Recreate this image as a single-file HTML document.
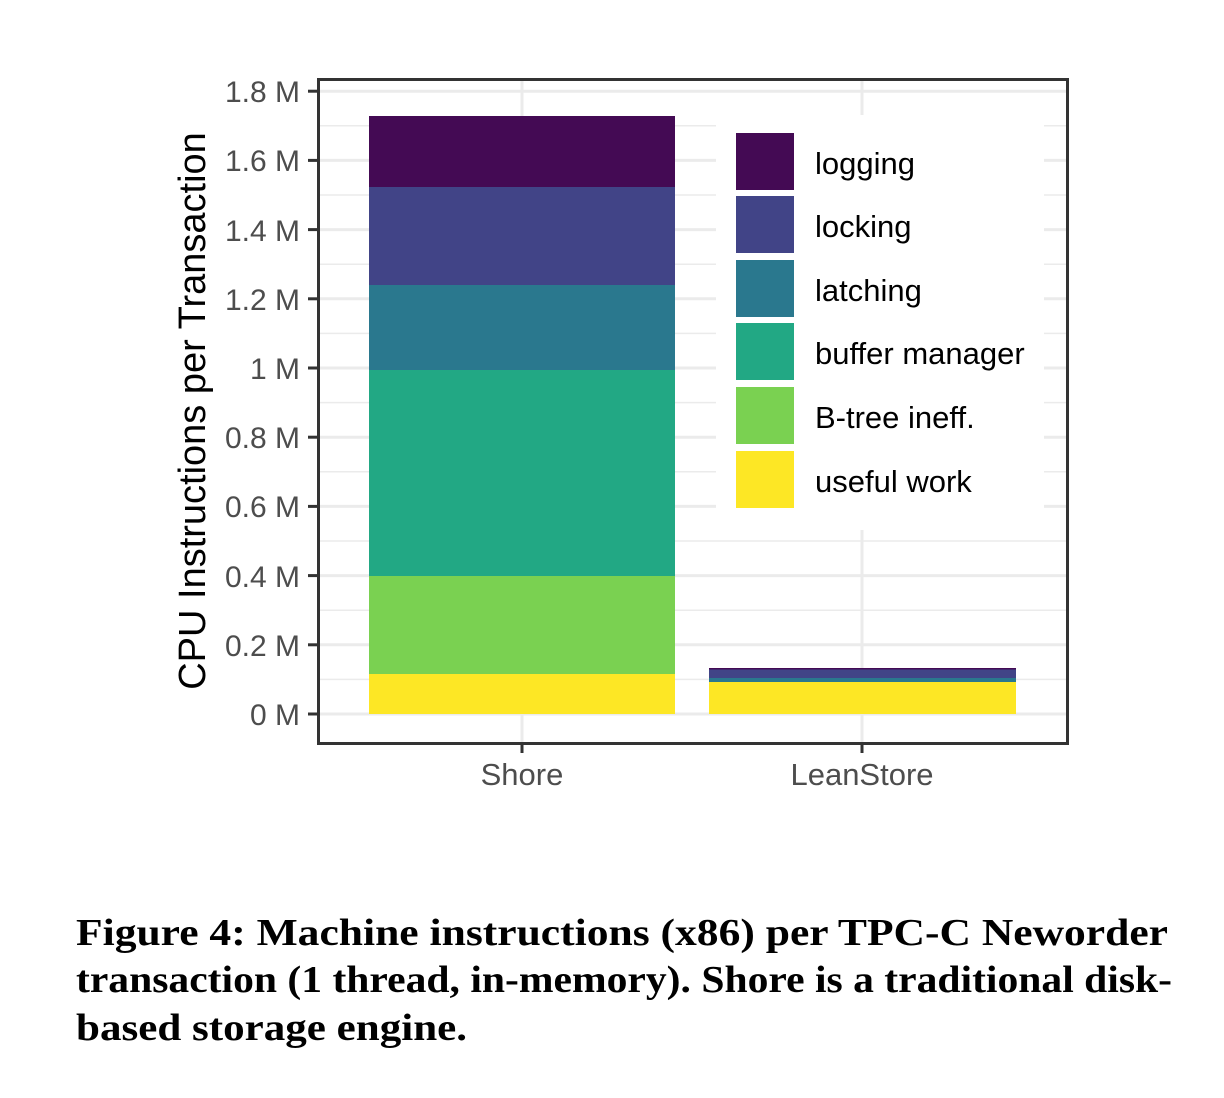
<!DOCTYPE html>
<html><head><meta charset="utf-8"><style>
html,body{margin:0;padding:0;background:#fff;}
svg{display:block;}
</style></head><body>
<svg width="1224" height="1098" viewBox="0 0 1224 1098" xmlns="http://www.w3.org/2000/svg">
<rect width="1224" height="1098" fill="#fff"/>
<g stroke="#ebebeb">
  <g stroke-width="1.5">
    <line x1="318" x2="1068" y1="679.4" y2="679.4"/>
    <line x1="318" x2="1068" y1="610.2" y2="610.2"/>
    <line x1="318" x2="1068" y1="541" y2="541"/>
    <line x1="318" x2="1068" y1="471.8" y2="471.8"/>
    <line x1="318" x2="1068" y1="402.6" y2="402.6"/>
    <line x1="318" x2="1068" y1="333.4" y2="333.4"/>
    <line x1="318" x2="1068" y1="264.2" y2="264.2"/>
    <line x1="318" x2="1068" y1="195" y2="195"/>
    <line x1="318" x2="1068" y1="125.8" y2="125.8"/>
  </g>
  <g stroke-width="3">
    <line x1="318" x2="1068" y1="714" y2="714"/>
    <line x1="318" x2="1068" y1="644.8" y2="644.8"/>
    <line x1="318" x2="1068" y1="575.6" y2="575.6"/>
    <line x1="318" x2="1068" y1="506.4" y2="506.4"/>
    <line x1="318" x2="1068" y1="437.2" y2="437.2"/>
    <line x1="318" x2="1068" y1="368" y2="368"/>
    <line x1="318" x2="1068" y1="298.8" y2="298.8"/>
    <line x1="318" x2="1068" y1="229.6" y2="229.6"/>
    <line x1="318" x2="1068" y1="160.4" y2="160.4"/>
    <line x1="318" x2="1068" y1="91.2" y2="91.2"/>
    <line x1="522" x2="522" y1="79" y2="744"/>
    <line x1="862" x2="862" y1="79" y2="744"/>
  </g>
</g>
<rect x="369" y="116" width="306" height="71" fill="#440a54"/>
<rect x="369" y="187" width="306" height="98" fill="#414487"/>
<rect x="369" y="285" width="306" height="85" fill="#2a788e"/>
<rect x="369" y="370" width="306" height="206" fill="#22a884"/>
<rect x="369" y="576" width="306" height="98" fill="#7ad151"/>
<rect x="369" y="674" width="306" height="40" fill="#fde725"/>
<rect x="709" y="668" width="307" height="1.5" fill="#440a54"/>
<rect x="709" y="669.5" width="307" height="8.5" fill="#414487"/>
<rect x="709" y="678" width="307" height="4" fill="#2a788e"/>
<rect x="709" y="682" width="307" height="32" fill="#fde725"/>
<rect x="716" y="115" width="328" height="415" fill="#fff"/>
<rect x="736" y="133" width="58" height="57" fill="#440a54"/>
<rect x="736" y="196" width="58" height="57" fill="#414487"/>
<rect x="736" y="260" width="58" height="57" fill="#2a788e"/>
<rect x="736" y="323" width="58" height="57" fill="#22a884"/>
<rect x="736" y="387" width="58" height="57" fill="#7ad151"/>
<rect x="736" y="451" width="58" height="57" fill="#fde725"/>
<g font-family="Liberation Sans, sans-serif" font-size="31" fill="#000">
  <text x="815" y="174">logging</text>
  <text x="815" y="237">locking</text>
  <text x="815" y="301">latching</text>
  <text x="815" y="364">buffer manager</text>
  <text x="815" y="428">B-tree ineff.</text>
  <text x="815" y="492">useful work</text>
</g>
<rect x="318.5" y="79.5" width="749" height="664" fill="none" stroke="#333" stroke-width="3"/>
<g stroke="#333" stroke-width="3">
  <line x1="308" x2="318" y1="714" y2="714"/>
  <line x1="308" x2="318" y1="644.8" y2="644.8"/>
  <line x1="308" x2="318" y1="575.6" y2="575.6"/>
  <line x1="308" x2="318" y1="506.4" y2="506.4"/>
  <line x1="308" x2="318" y1="437.2" y2="437.2"/>
  <line x1="308" x2="318" y1="368" y2="368"/>
  <line x1="308" x2="318" y1="298.8" y2="298.8"/>
  <line x1="308" x2="318" y1="229.6" y2="229.6"/>
  <line x1="308" x2="318" y1="160.4" y2="160.4"/>
  <line x1="308" x2="318" y1="91.2" y2="91.2"/>
  <line x1="522" x2="522" y1="744" y2="753"/>
  <line x1="862" x2="862" y1="744" y2="753"/>
</g>
<g font-family="Liberation Sans, sans-serif" font-size="30" fill="#4d4d4d" text-anchor="end">
  <text x="300" y="725">0 M</text>
  <text x="300" y="656">0.2 M</text>
  <text x="300" y="587">0.4 M</text>
  <text x="300" y="517">0.6 M</text>
  <text x="300" y="448">0.8 M</text>
  <text x="300" y="379">1 M</text>
  <text x="300" y="310">1.2 M</text>
  <text x="300" y="241">1.4 M</text>
  <text x="300" y="171">1.6 M</text>
  <text x="300" y="102">1.8 M</text>
</g>
<g font-family="Liberation Sans, sans-serif" font-size="31" fill="#4d4d4d" text-anchor="middle">
  <text x="522" y="785">Shore</text>
  <text x="862" y="785">LeanStore</text>
</g>
<text transform="translate(205,411) rotate(-90)" font-family="Liberation Sans, sans-serif" font-size="38" fill="#000" text-anchor="middle">CPU Instructions per Transaction</text>
<g font-family="Liberation Serif, serif" font-weight="bold" font-size="38" fill="#000">
  <text x="76" y="945" textLength="1092" lengthAdjust="spacingAndGlyphs">Figure 4: Machine instructions (x86) per TPC-C Neworder</text>
  <text x="76" y="992" textLength="1096" lengthAdjust="spacingAndGlyphs">transaction (1 thread, in-memory). Shore is a traditional disk-</text>
  <text x="76" y="1040" textLength="391" lengthAdjust="spacingAndGlyphs">based storage engine.</text>
</g>
</svg>
</body></html>
